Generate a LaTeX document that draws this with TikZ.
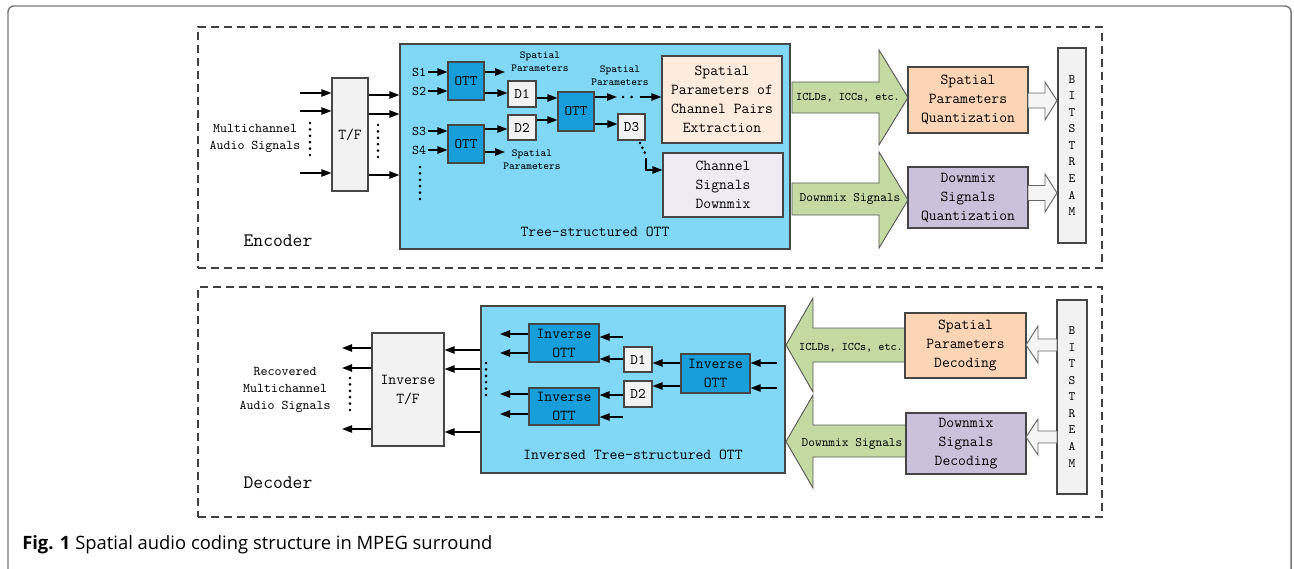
\documentclass[tikz,border=0pt]{standalone}
\usepackage{fontspec}
\newcommand{\dgmfont}{\ttfamily}
\newfontfamily\capfont{Open Sans}
\usetikzlibrary{arrows.meta,positioning,calc}

\definecolor{ottbg}{RGB}{128,216,246}
\definecolor{ottblk}{RGB}{24,158,218}
\definecolor{boxgray}{RGB}{242,242,242}
\definecolor{peach}{RGB}{253,235,221}
\definecolor{lilac}{RGB}{238,236,242}
\definecolor{orng}{RGB}{251,213,181}
\definecolor{purp}{RGB}{204,193,218}
\definecolor{grn}{RGB}{197,217,162}
\definecolor{edge}{RGB}{70,70,70}

\begin{document}
\begin{tikzpicture}[x=0.75pt,y=-0.75pt,
  sz/.style 2 args={minimum width=#1*0.75pt, minimum height=#2*0.75pt},
  blk/.style={draw=edge, line width=0.8pt, inner sep=0pt, align=center,
    font=\dgmfont\fontsize{11.4}{14.25}\selectfont},
  frame/.style={draw=black!75, line width=1pt, dash pattern=on 6pt off 3.75pt, inner sep=0pt},
  txt/.style={inner sep=1pt, align=center, font=\dgmfont\fontsize{10}{12.75}\selectfont},
  txtbig/.style={inner sep=1pt, align=center, font=\dgmfont\fontsize{11.4}{14}\selectfont},
  txtsmall/.style={inner sep=1pt, align=center, font=\dgmfont\fontsize{8.1}{9.75}\selectfont},
  arr/.style={line width=1pt, -{Triangle[length=7.5pt,width=5.5pt]}},
  dotcol/.style={line width=2.2pt, line cap=round, dash pattern=on 0pt off 4.8pt},
  garrow/.style={fill=grn, draw=black!65, line width=0.7pt},
  warrow/.style={fill=black!4, draw=black!60, line width=0.7pt}]
\useasboundingbox (0,0) rectangle (1294,568);

% outer frame
\draw[black!53, line width=1.1pt, rounded corners=4.5pt] (8,575) -- (8,6) -- (1291,6) -- (1291,575);

% ---------------- Encoder ----------------
\node[frame, sz={904}{241}] (encbox) at (650,147.5) {};
\node[font=\dgmfont\fontsize{14.3}{16}\selectfont] (enclbl) at (278,241) {Encoder};

\node[blk, fill=boxgray, sz={36}{113}] (tf) at (350,134.5) {T/F};
\node[txt] (mcin) at (255,138.5) {Multichannel\\Audio Signals};
\foreach \y in {93,111,173}
  \draw[arr] (300,\y) -- (tf.west |- 0,\y);
\draw[dotcol] (310,123) -- (310,158);

% tree-structured OTT
\node[blk, fill=ottbg, sz={390}{205}] (tree) at (595,146.5) {};
\node[txtbig] (treelbl) at (595,232) {Tree-structured OTT};
\foreach \y in {95,114,175}
  \draw[arr] (tf.east |- 0,\y) -- (tree.west |- 0,\y);
\draw[dotcol] (378,125) -- (378,161);

\node[blk, fill=ottblk, sz={36}{38}, font=\dgmfont\fontsize{10.9}{12}\selectfont] (ottA) at (466,81) {OTT};
\node[blk, fill=ottblk, sz={36}{38}, font=\dgmfont\fontsize{10.9}{12}\selectfont] (ottB) at (466,144) {OTT};
\node[blk, fill=ottblk, sz={36}{39}, font=\dgmfont\fontsize{10.9}{12}\selectfont] (ottC) at (576,111.5) {OTT};
\node[blk, fill=boxgray, sz={28}{26}, font=\dgmfont\fontsize{10.9}{12}\selectfont] (d1) at (522,94) {D1};
\node[blk, fill=boxgray, sz={28}{25}, font=\dgmfont\fontsize{10.9}{12}\selectfont] (d2) at (522,127.5) {D2};
\node[blk, fill=boxgray, sz={27}{26}, font=\dgmfont\fontsize{10.9}{12}\selectfont] (d3) at (631.5,127) {D3};

\foreach \n/\y in {1/72,2/91,3/131,4/150}
  \node[txt] (s\n) at (419,\y) {S\n};
\foreach \n/\o in {1/ottA,2/ottA,3/ottB,4/ottB}
  \draw[arr] (s\n.east) -- (\o.west |- s\n);
\draw[dotcol] (420,167) -- (420,203);

\node[txtsmall] (spA) at (540,61.5) {Spatial\\Parameters};
\node[txtsmall] (spB) at (620,75.5) {Spatial\\Parameters};
\node[txtsmall] (spC) at (532,159.5) {Spatial\\Parameters};
\coordinate (pA) at (505,72);
\coordinate (pC) at (505,152);
\coordinate (pB) at (617,97);

\draw[arr] (ottA.east |- pA) -- (pA);
\draw[arr] (ottA.east |- 0,93) -- (d1.west |- 0,93);
\draw[arr] (ottB.east |- 0,129) -- (d2.west |- 0,129);
\draw[arr] (ottB.east |- pC) -- (pC);
\draw[arr] (d1.east |- 0,98) -- (ottC.west |- 0,98);
\draw[arr] (d2.east |- 0,120) -- (ottC.west |- 0,120);
\draw[arr] (ottC.east |- pB) -- (pB);
\draw[arr] (ottC.east |- 0,124) -- (d3.west |- 0,124);

% extraction and downmix boxes
\node[blk, fill=peach, sz={120}{87}] (ext) at (722,99.5) {Spatial\\Parameters of\\Channel Pairs\\Extraction};
\node[blk, fill=lilac, sz={120}{64}] (dmx) at (723,185) {Channel\\Signals\\Downmix};
\draw[dotcol, dash pattern=on 0pt off 6.5pt] (623,97) -- (637,97);
\draw[arr] (640,97) -- (ext.west |- 0,97);
\draw[dotcol, dash pattern=on 0pt off 4pt] (640,143) -- (646,155);
\draw[arr] (646,158) -- (646,170) -- (dmx.west |- 0,170);

% green block arrows
\draw[garrow] (792,82) -- (879,82) -- (879,50) -- (908,97.5) -- (879,145) -- (879,113) -- (792,113) -- cycle;
\draw[garrow] (792,183) -- (879,183) -- (879,152) -- (908,200) -- (879,248) -- (879,215) -- (792,215) -- cycle;
\node[txt, font=\dgmfont\fontsize{8.7}{10}\selectfont] (icldA) at (848,98) {ICLDs, ICCs, etc.};
\node[txt, font=\dgmfont\fontsize{9.6}{10}\selectfont] (dmxA) at (850,199) {Downmix Signals};

\node[blk, fill=orng, sz={120}{66}] (quant) at (968,100) {Spatial\\Parameters\\Quantization};
\node[blk, fill=purp, sz={120}{61}] (dquant) at (968,197.5) {Downmix\\Signals\\Quantization};
\node[blk, fill=boxgray, sz={28}{195}, font=\dgmfont\fontsize{9.6}{12.4}\selectfont] (bsA) at (1072,145.5) {B\\I\\T\\S\\T\\R\\E\\A\\M};

% white arrows to bitstream
\draw[warrow] (1028,93) -- (1045,93) -- (1045,82) -- (1057,100.5) -- (1045,120) -- (1045,108) -- (1028,108) -- cycle;
\draw[warrow] (1028,185.5) -- (1045,185.5) -- (1045,174) -- (1057,193) -- (1045,212) -- (1045,200.5) -- (1028,200.5) -- cycle;

% ---------------- Decoder ----------------
\node[frame, sz={904}{230}] (decbox) at (650,402) {};
\node[font=\dgmfont\fontsize{14.3}{16}\selectfont] (declbl) at (278,483) {Decoder};

\node[blk, fill=boxgray, sz={72}{113}] (itf) at (408,389.5) {Inverse\\T/F};
\node[txt] (mcout) at (285,390) {Recovered\\Multichannel\\Audio Signals};
\foreach \y in {348,368,429}
  \draw[arr] (itf.west |- 0,\y) -- (342,\y);
\draw[dotcol] (350,378) -- (350,416);

\node[blk, fill=ottbg, sz={304}{167}] (itree) at (633,389.5) {};
\node[txtbig] (itreelbl) at (633,455) {Inversed Tree-structured OTT};
\foreach \y in {350,369,432}
  \draw[arr] (itree.west |- 0,\y) -- (itf.east |- 0,\y);
\draw[dotcol] (486,363) -- (486,399);

\node[blk, fill=ottblk, sz={70}{38}] (iottA) at (564,343) {Inverse\\OTT};
\node[blk, fill=ottblk, sz={70}{37}] (iottB) at (564,406.5) {Inverse\\OTT};
\node[blk, fill=ottblk, sz={69}{39}] (iottC) at (715.5,373.5) {Inverse\\OTT};
\node[blk, fill=boxgray, sz={28}{25}, font=\dgmfont\fontsize{10.9}{12}\selectfont] (dd1) at (638,359.5) {D1};
\node[blk, fill=boxgray, sz={28}{26}, font=\dgmfont\fontsize{10.9}{12}\selectfont] (dd2) at (638,394) {D2};

\coordinate (qA) at (777,363);
\coordinate (qB) at (777,388);
\coordinate (qC) at (623,337);
\coordinate (qD) at (623,417);
\draw[arr] (qA) -- (iottC.east |- qA);
\draw[arr] (qB) -- (iottC.east |- qB);
\draw[arr] (iottC.west |- 0,363) -- (dd1.east |- 0,363);
\draw[arr] (iottC.west |- 0,386) -- (dd2.east |- 0,386);
\draw[arr] (dd1.west |- 0,359) -- (iottA.east |- 0,359);
\draw[arr] (qC) -- (iottA.east |- qC);
\draw[arr] (dd2.west |- 0,395) -- (iottB.east |- 0,395);
\draw[arr] (qD) -- (iottB.east |- qD);
\foreach \y in {334,353}
  \draw[arr] (iottA.west |- 0,\y) -- (500,\y);
\foreach \y in {394,414}
  \draw[arr] (iottB.west |- 0,\y) -- (500,\y);

% green block arrows (to the left)
\draw[garrow] (905,328) -- (813,328) -- (813,298) -- (786,345) -- (813,392) -- (813,362) -- (905,362) -- cycle;
\draw[garrow] (906,425) -- (813,425) -- (813,395) -- (786,441.5) -- (813,488) -- (813,457) -- (906,457) -- cycle;
\node[txt, font=\dgmfont\fontsize{8.7}{10}\selectfont] (icldB) at (851,348) {ICLDs, ICCs, etc.};
\node[txt, font=\dgmfont\fontsize{9.6}{10}\selectfont] (dmxB) at (852,444) {Downmix Signals};

\node[blk, fill=orng, sz={121}{65}] (sdec) at (965.5,345.5) {Spatial\\Parameters\\Decoding};
\node[blk, fill=purp, sz={120}{61}] (ddec) at (966,443.5) {Downmix\\Signals\\Decoding};
\node[blk, fill=boxgray, sz={30}{194}, font=\dgmfont\fontsize{9.6}{12.4}\selectfont] (bsB) at (1072,397) {B\\I\\T\\S\\T\\R\\E\\A\\M};

% white arrows from bitstream
\draw[warrow] (1057,339) -- (1038,339) -- (1038,326) -- (1026,345) -- (1038,363) -- (1038,351) -- (1057,351) -- cycle;
\draw[warrow] (1057,431) -- (1038,431) -- (1038,419) -- (1026,437) -- (1038,455) -- (1038,443) -- (1057,443) -- cycle;

% caption
\node[anchor=west, inner sep=0pt, font=\capfont\fontsize{13.8}{16}\selectfont] (cap) at (22,545) {\textbf{Fig. 1} Spatial audio coding structure in MPEG surround};
\end{tikzpicture}
\end{document}
